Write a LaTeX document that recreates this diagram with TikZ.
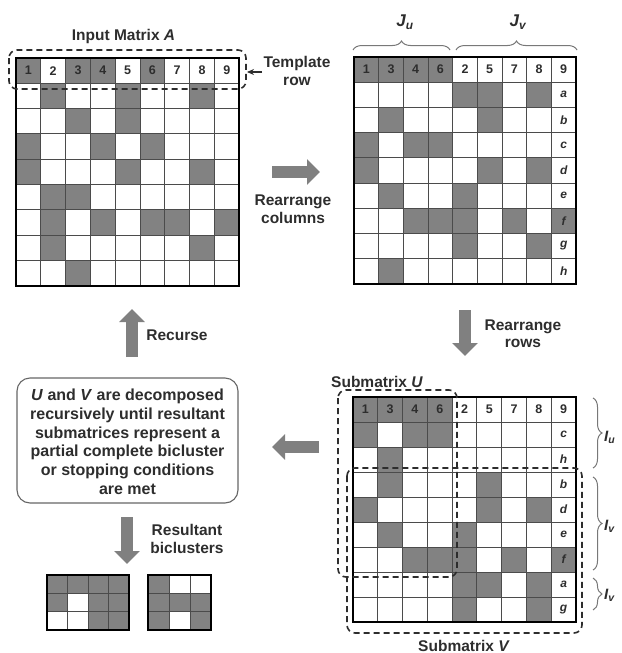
\documentclass[tikz,border=0pt]{standalone}
\usepackage{fontspec}
\setmainfont{Liberation Sans}
\usetikzlibrary{arrows.meta,decorations.pathreplacing}
\definecolor{cellgray}{RGB}{130,130,130}
\definecolor{arrowgray}{RGB}{128,128,128}
\definecolor{inkgray}{RGB}{45,45,45}
\definecolor{gridgray}{RGB}{75,75,75}
\definecolor{bracegray}{RGB}{120,120,120}
\newcommand{\drawmat}[7]{%
  \foreach \cc/\rr in {#7} \fill[cellgray] ({#1+(\cc-1)*#5},{#2+\rr*#6}) rectangle ++(#5,#6);
  \pgfmathtruncatemacro\mcm{#3-1}%
  \pgfmathtruncatemacro\mrm{#4-1}%
  \foreach \ii in {1,...,\mcm} \draw[gridline] ({#1+\ii*#5},#2) -- ++(0,{#4*#6});
  \foreach \ii in {1,...,\mrm} \draw[gridline] (#1,{#2+\ii*#6}) -- ++({#3*#5},0);
  \draw[matborder] (#1,#2) rectangle ++({#3*#5},{#4*#6});
}
\begin{document}
\begin{tikzpicture}[x=1pt,y=-1pt,
  gridline/.style={gridgray,line width=0.9pt},
  matborder/.style={black,line width=2.4pt},
  hdr/.style={font=\fontsize{12.5}{12.5}\selectfont\bfseries,text=inkgray,inner sep=0pt},
  rlab/.style={font=\fontsize{12}{12}\selectfont\bfseries\itshape,text=inkgray,inner sep=0pt},
  lbl/.style={font=\fontsize{15.5}{18.7}\selectfont\bfseries,text=inkgray,inner sep=0pt,anchor=base},
  sym/.style={font=\fontsize{17}{17}\selectfont\bfseries\itshape,text=inkgray,inner sep=0pt},
  fatarrow/.style={arrowgray,line width=12pt,-{Triangle[length=13pt,width=25pt]}},
  dashbox/.style={inkgray,line width=1.6pt,dash pattern=on 6pt off 4pt,rounded corners=8pt},
  brc/.style={bracegray,line width=1pt,decorate,decoration={brace,amplitude=9pt}},
]
\useasboundingbox (0,0) rectangle (621,653);

% ---------- Input matrix A ----------
\drawmat{16}{58}{9}{9}{24.8}{25.3}{1/0,3/0,4/0,6/0, 2/1,5/1,8/1, 3/2,5/2, 1/3,4/3,6/3, 1/4,5/4,8/4, 2/5,3/5, 2/6,4/6,6/6,7/6,9/6, 2/7,8/7, 3/8}
\foreach \t [count=\i] in {1,2,3,4,5,6,7,8,9}
  \node[hdr] (A-h\i) at ({16+(\i-0.5)*24.8},{58+0.5*25.3}) {\t};
\node[lbl] (titleA) at (123.5,40) {Input Matrix \textit{A}};
\draw[dashbox] (9,50) rectangle (246,89);
\node[lbl] (tmpl1) at (297,67) {Template};
\node[lbl] (tmpl2) at (297,85) {row};
\coordinate (tarrS) at (262,72);
\coordinate (tarrE) at (247,72);
\draw[inkgray,line width=1.2pt,-{Stealth[length=7pt,width=6pt]}] (tarrS) -- (tarrE);

% ---------- Rearranged matrix ----------
\drawmat{354}{57}{9}{9}{24.67}{25.2}{1/0,2/0,3/0,4/0, 5/1,6/1,8/1, 2/2,6/2, 1/3,3/3,4/3, 1/4,6/4,8/4, 2/5,5/5, 3/6,4/6,5/6,7/6,9/6, 5/7,8/7, 2/8}
\foreach \t [count=\i] in {1,3,4,6,2,5,7,8,9}
  \node[hdr] (B-h\i) at ({354+(\i-0.5)*24.67},{57+0.5*25.2}) {\t};
\foreach \t [count=\i] in {a,b,c,d,e,f,g,h}
  \node[rlab] (B-r\i) at ({354+8.5*24.67},{57+(\i+0.5)*25.2}) {\t};
\coordinate (JuL) at (353,50);
\coordinate (JuR) at (450,50);
\coordinate (JvL) at (456,50);
\coordinate (JvR) at (577,50);
\draw[brc] (JuL) -- (JuR);
\draw[brc] (JvL) -- (JvR);
\node[sym,anchor=base] (Ju) at (405,27) {J\textsubscript{u}};
\node[sym,anchor=base] (Jv) at (518,27) {J\textsubscript{v}};

% ---------- Submatrices ----------
\drawmat{353}{397}{9}{9}{24.78}{25}{1/0,2/0,3/0,4/0, 1/1,3/1,4/1, 2/2, 2/3,6/3, 1/4,6/4,8/4, 2/5,5/5, 3/6,4/6,5/6,7/6,9/6, 5/7,6/7,8/7, 5/8,8/8}
\foreach \t [count=\i] in {1,3,4,6,2,5,7,8,9}
  \node[hdr] (C-h\i) at ({353+(\i-0.5)*24.78},{397+0.5*25}) {\t};
\foreach \t [count=\i] in {c,h,b,d,e,f,a,g}
  \node[rlab] (C-r\i) at ({353+8.5*24.78},{397+(\i+0.5)*25}) {\t};
\draw[dashbox] (338,390) rectangle (457,577);
\draw[dashbox] (347,468) rectangle (582,633);
\node[lbl] (subU) at (377,387) {Submatrix \textit{U}};
\node[lbl] (subV) at (464,651) {Submatrix \textit{V}};
\coordinate (Iu1) at (593,398);
\coordinate (Iu2) at (593,468);
\coordinate (Iv1) at (593,477);
\coordinate (Iv2) at (593,570);
\coordinate (Iw1) at (593,578);
\coordinate (Iw2) at (593,610);
\draw[brc] (Iu1) -- (Iu2);
\draw[brc] (Iv1) -- (Iv2);
\draw[brc] (Iw1) -- (Iw2);
\node[sym,anchor=base west,font=\fontsize{15}{15}\selectfont\bfseries\itshape] (Iu) at (604,441) {I\textsubscript{u}};
\node[sym,anchor=base west,font=\fontsize{15}{15}\selectfont\bfseries\itshape] (Iv) at (604,530) {I\textsubscript{v}};
\node[sym,anchor=base west,font=\fontsize{15}{15}\selectfont\bfseries\itshape] (Iw) at (604,599) {I\textsubscript{v}};

% ---------- Arrows ----------
\coordinate (c1) at (272,172);
\coordinate (c2) at (320,172);
\draw[fatarrow] (c1) -- (c2);
\node[lbl] (rc1) at (293,205) {Rearrange};
\node[lbl] (rc2) at (293,223) {columns};

\coordinate (r1) at (465,310);
\coordinate (r2) at (465,356);
\draw[fatarrow] (r1) -- (r2);
\node[lbl] (rr1) at (523,330) {Rearrange};
\node[lbl] (rr2) at (523,347) {rows};

\coordinate (l1) at (319,447);
\coordinate (l2) at (272,447);
\draw[fatarrow] (l1) -- (l2);

\coordinate (u1) at (132,357);
\coordinate (u2) at (132,309);
\draw[fatarrow] (u1) -- (u2);
\node[lbl] (rec) at (177,340) {Recurse};

\coordinate (d1) at (127,517);
\coordinate (d2) at (127,564);
\draw[fatarrow] (d1) -- (d2);
\node[lbl] (res1) at (187,535) {Resultant};
\node[lbl] (res2) at (187,553) {biclusters};

% ---------- Box ----------
\node[draw=gray!80!black,line width=1.1pt,rounded corners=13pt,minimum width=221pt,minimum height=125pt] (bx) at (127.5,440.5) {};
\node[font=\fontsize{16}{18.7}\selectfont\bfseries,text=inkgray,align=center,inner sep=0pt,anchor=north] (bxt) at (127.5,389)
  {\textit{U} and \textit{V} are decomposed\\recursively until resultant\\submatrices represent a\\partial complete bicluster\\or stopping conditions\\are met};

% ---------- Result biclusters ----------
\drawmat{47}{575}{4}{3}{20.5}{18.33}{1/0,2/0,3/0,4/0,1/1,3/1,4/1,3/2,4/2}
\drawmat{148}{575}{3}{3}{21}{18.33}{1/0,1/1,2/1,3/1,1/2,3/2}
\end{tikzpicture}
\end{document}
